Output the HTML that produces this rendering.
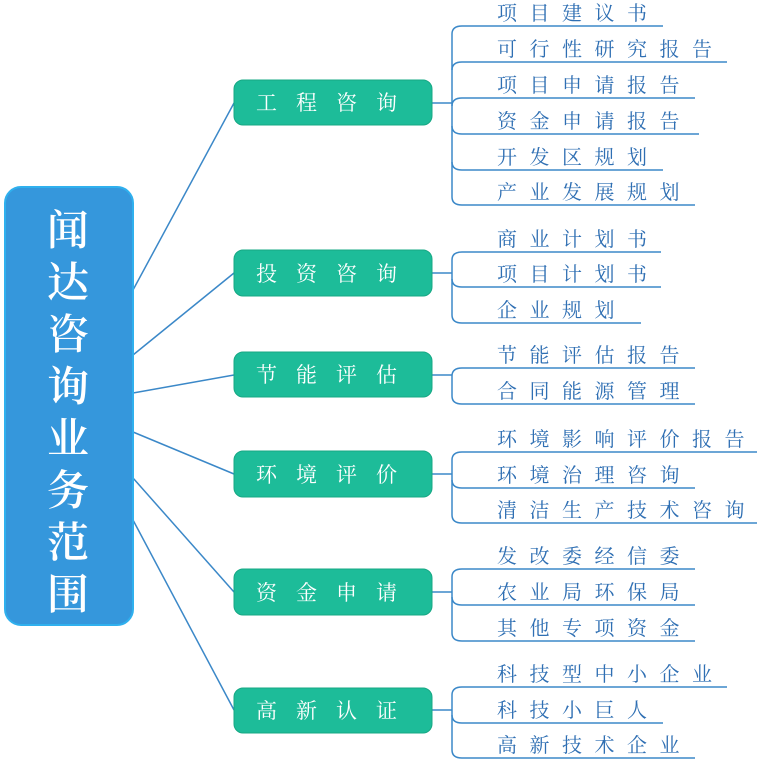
<!DOCTYPE html>
<html><head><meta charset="utf-8"><style>
html,body{margin:0;padding:0;background:#fff;}
svg{display:block}
.leaf{font-family:"Liberation Serif","Noto Serif CJK SC",serif;font-size:20px;fill:#2f6fb3;letter-spacing:12.5px}
.br{font-family:"Liberation Serif","Noto Serif CJK SC",serif;font-size:21px;fill:#fff;letter-spacing:19px}
.root{font-family:"Liberation Serif","Noto Serif CJK SC",serif;font-size:42px;fill:#fff;font-weight:600}
</style></head><body>
<svg width="760" height="760" viewBox="0 0 760 760" xmlns="http://www.w3.org/2000/svg">
<g stroke="#3b88c8" stroke-width="1.5" fill="none">
<path d="M133 290 L234 103"/>
<path d="M133 355 L234 273"/>
<path d="M133 393 L234 375"/>
<path d="M133 432 L234 474"/>
<path d="M133 478 L234 592"/>
<path d="M133 520 L234 710"/>
<path d="M432 103 H452"/>
<path d="M452 34 V197"/>
<path d="M452 34 Q452 26 462 26 H663"/>
<path d="M452 70 Q452 62 462 62 H727"/>
<path d="M452 106 Q452 98 462 98 H695"/>
<path d="M452 126 Q452 134 462 134 H699"/>
<path d="M452 162 Q452 170 462 170 H663"/>
<path d="M452 197 Q452 205 462 205 H695"/>
<path d="M432 273 H452"/>
<path d="M452 260 V315"/>
<path d="M452 260 Q452 252 462 252 H661"/>
<path d="M452 279 Q452 287 462 287 H661"/>
<path d="M452 315 Q452 323 462 323 H641"/>
<path d="M432 375 H452"/>
<path d="M452 376 V396"/>
<path d="M452 376 Q452 368 462 368 H695"/>
<path d="M452 396 Q452 404 462 404 H695"/>
<path d="M432 474 H452"/>
<path d="M452 460 V515"/>
<path d="M452 460 Q452 452 462 452 H757"/>
<path d="M452 480 Q452 488 462 488 H695"/>
<path d="M452 515 Q452 523 462 523 H757"/>
<path d="M432 592 H452"/>
<path d="M452 577 V633"/>
<path d="M452 577 Q452 569 462 569 H695"/>
<path d="M452 597 Q452 605 462 605 H695"/>
<path d="M452 633 Q452 641 462 641 H695"/>
<path d="M432 710 H452"/>
<path d="M452 695 V750"/>
<path d="M452 695 Q452 687 462 687 H727"/>
<path d="M452 715 Q452 723 462 723 H663"/>
<path d="M452 750 Q452 758 462 758 H695"/>
</g>
<rect x="5" y="187" width="128" height="438" rx="16" fill="#3597dc" stroke="#2fb0ee" stroke-width="2"/>
<g class="root" text-anchor="middle">
<text x="68" y="245">闻</text>
<text x="68" y="297">达</text>
<text x="68" y="349">咨</text>
<text x="68" y="401">询</text>
<text x="68" y="453">业</text>
<text x="68" y="505">务</text>
<text x="68" y="557">范</text>
<text x="68" y="609">围</text>
</g>
<g fill="#1dbc99" stroke="#17a884" stroke-width="1">
<rect x="234" y="80" width="198" height="45" rx="9"/>
<rect x="234" y="250" width="198" height="46" rx="9"/>
<rect x="234" y="352" width="198" height="45" rx="9"/>
<rect x="234" y="451" width="198" height="46" rx="9"/>
<rect x="234" y="569" width="198" height="46" rx="9"/>
<rect x="234" y="688" width="198" height="45" rx="9"/>
</g>
<g class="br">
<text x="256" y="110">工程咨询</text>
<text x="256" y="281">投资咨询</text>
<text x="256" y="382">节能评估</text>
<text x="256" y="482">环境评价</text>
<text x="256" y="600">资金申请</text>
<text x="256" y="718">高新认证</text>
</g>
<g class="leaf">
<text x="497" y="20">项目建议书</text>
<text x="497" y="56">可行性研究报告</text>
<text x="497" y="92">项目申请报告</text>
<text x="497" y="128">资金申请报告</text>
<text x="497" y="164">开发区规划</text>
<text x="497" y="199">产业发展规划</text>
<text x="497" y="246">商业计划书</text>
<text x="497" y="281">项目计划书</text>
<text x="497" y="317">企业规划</text>
<text x="497" y="362">节能评估报告</text>
<text x="497" y="398">合同能源管理</text>
<text x="497" y="446">环境影响评价报告</text>
<text x="497" y="482">环境治理咨询</text>
<text x="497" y="517">清洁生产技术咨询</text>
<text x="497" y="563">发改委经信委</text>
<text x="497" y="599">农业局环保局</text>
<text x="497" y="635">其他专项资金</text>
<text x="497" y="681">科技型中小企业</text>
<text x="497" y="717">科技小巨人</text>
<text x="497" y="752">高新技术企业</text>
</g>
</svg>
</body></html>
